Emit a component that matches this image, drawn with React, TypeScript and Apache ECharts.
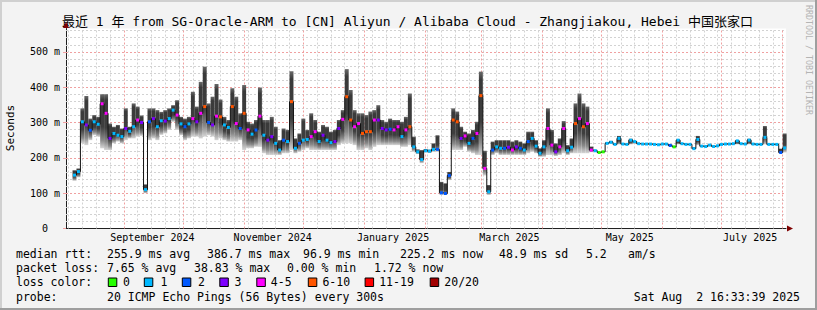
import React, { useEffect, useRef } from 'react';
import * as echarts from 'echarts';

const FONT = "'DejaVu Sans Mono', 'Noto Sans CJK SC', monospace";
const DAY = 86400000;
const END_TIME = Date.UTC(2025, 7, 2, 16, 33, 39);
const START_TIME = END_TIME - 365 * DAY;
const FIRST_SAMPLE = Date.UTC(2024, 7, 7);
const STEP_DAYS = 2;

// median RTT per 2-day bucket (ms)
const medianMs = [
  151, 161, 302, 293, 278, 302, 295, 353, 326, 255,
  269, 264, 260, 283, 275, 288, 307, 300, 110, 302,
  311, 288, 305, 304, 311, 335, 321, 296, 288, 296,
  311, 302, 326, 345, 300, 293, 318, 316, 293, 286,
  345, 297, 283, 326, 279, 267, 279, 318, 264, 250,
  260, 241, 222, 250, 246, 359, 227, 241, 250, 252,
  260, 274, 246, 264, 250, 243, 246, 283, 309, 373,
  307, 288, 297, 269, 274, 274, 307, 307, 283, 279,
  281, 279, 288, 260, 279, 288, 231, 217, 195, 220,
  219, 224, 224, 101, 99, 150, 307, 302, 255, 262,
  241, 255, 269, 376, 170, 104, 222, 231, 227, 227,
  230, 222, 231, 227, 222, 246, 255, 233, 213, 231,
  283, 236, 217, 231, 283, 220, 230, 297, 311, 288,
  297, 222, 220, 215, 217, 241, 244, 238, 255, 239,
  238, 250, 246, 240, 239, 239, 239, 238, 237, 239,
  239, 235, 231, 250, 240, 238, 238, 226, 252, 233,
  232, 236, 232, 234, 238, 239, 239, 240, 248, 240,
  239, 250, 239, 238, 238, 258, 238, 238, 238, 215,
  228,
];
// lowest ping of the bucket (ms)
const lowMs = [
  135, 145, 241, 236, 250, 264, 260, 227, 222, 222,
  241, 246, 241, 250, 255, 255, 260, 262, 100, 250,
  255, 250, 265, 269, 279, 302, 279, 264, 250, 255,
  260, 260, 255, 260, 264, 260, 250, 255, 250, 246,
  246, 246, 250, 222, 227, 227, 231, 231, 213, 208,
  208, 208, 208, 213, 213, 222, 213, 217, 222, 227,
  222, 222, 222, 222, 222, 222, 222, 236, 241, 241,
  241, 236, 222, 222, 227, 222, 231, 236, 236, 236,
  236, 236, 236, 231, 231, 236, 217, 211, 185, 215,
  214, 217, 217, 95, 95, 137, 222, 222, 222, 231,
  217, 213, 208, 208, 150, 95, 208, 213, 208, 208,
  208, 208, 208, 208, 208, 213, 217, 213, 203, 203,
  208, 208, 205, 208, 213, 208, 213, 213, 213, 213,
  213, 216, 217, 213, 215, 238, 241, 236, 238, 237,
  236, 238, 240, 238, 237, 237, 237, 236, 235, 237,
  237, 232, 229, 238, 238, 236, 236, 224, 236, 231,
  230, 234, 230, 232, 236, 237, 237, 238, 238, 238,
  237, 238, 237, 236, 236, 238, 236, 236, 236, 212,
  215,
];
// highest ping of the bucket (ms)
const highMs = [
  165, 170, 340, 375, 311, 321, 316, 380, 380, 297,
  288, 293, 283, 340, 288, 354, 345, 320, 125, 340,
  340, 335, 330, 335, 340, 349, 363, 316, 311, 316,
  387, 345, 415, 458, 354, 373, 409, 365, 316, 307,
  397, 373, 326, 406, 302, 297, 307, 399, 307, 307,
  316, 288, 250, 283, 279, 445, 255, 269, 311, 279,
  326, 307, 274, 293, 288, 274, 279, 307, 335, 451,
  392, 335, 326, 326, 321, 331, 335, 349, 307, 302,
  311, 307, 307, 302, 316, 382, 260, 224, 222, 225,
  223, 241, 264, 132, 128, 160, 340, 331, 288, 274,
  269, 279, 302, 444, 220, 123, 246, 250, 250, 250,
  250, 246, 250, 246, 241, 274, 274, 250, 227, 250,
  340, 279, 241, 255, 304, 236, 255, 354, 382, 354,
  345, 232, 223, 217, 219, 244, 248, 241, 262, 241,
  240, 254, 248, 242, 241, 241, 241, 240, 239, 241,
  241, 238, 233, 252, 242, 240, 240, 230, 262, 235,
  234, 238, 234, 236, 240, 241, 241, 242, 250, 242,
  241, 254, 241, 240, 240, 290, 240, 240, 240, 226,
  269,
];
// packet-loss class of each bucket (index into lossLabels)
const lossClass = [
  1, 1, 1, 3, 2, 1, 1, 4, 4, 3,
  1, 1, 1, 3, 1, 1, 4, 3, 1, 2,
  3, 1, 1, 3, 1, 1, 4, 1, 2, 1,
  4, 3, 4, 5, 2, 3, 4, 5, 1, 1,
  5, 4, 2, 5, 4, 1, 2, 4, 1, 3,
  3, 1, 1, 2, 1, 5, 1, 2, 1, 1,
  4, 4, 1, 3, 1, 1, 3, 3, 4, 5,
  5, 4, 4, 5, 5, 5, 4, 3, 3, 3,
  2, 4, 4, 1, 4, 5, 1, 1, 1, 1,
  1, 1, 2, 2, 2, 2, 5, 5, 3, 4,
  1, 2, 4, 5, 4, 1, 2, 1, 1, 2,
  3, 4, 3, 2, 1, 2, 1, 1, 1, 1,
  4, 4, 3, 4, 4, 1, 1, 5, 4, 5,
  4, 4, 1, 0, 0, 1, 1, 1, 1, 1,
  1, 1, 1, 1, 1, 1, 1, 1, 1, 1,
  1, 2, 0, 1, 1, 1, 1, 1, 1, 1,
  1, 1, 1, 1, 1, 1, 1, 1, 1, 1,
  1, 1, 1, 1, 1, 1, 1, 1, 1, 2,
  1,
];

const lossLabels = ['0', '1', '2', '3', '4-5', '6-10', '11-19', '20/20'];
const lossColors = ['#26ff00', '#00b8ff', '#0059ff', '#7e00ff', '#ff00ff', '#ff5500', '#ff0000', '#a10000'];

const xTickLabels = ['September 2024', 'November 2024', 'January 2025', 'March 2025', 'May 2025', 'July 2025'];
const xTickTimes = [
  Date.UTC(2024, 8, 15, 12), Date.UTC(2024, 10, 15, 12), Date.UTC(2025, 0, 15, 12),
  Date.UTC(2025, 2, 15, 12), Date.UTC(2025, 4, 15, 12), Date.UTC(2025, 6, 15, 12),
];
const yTickValues = [0, 100, 200, 300, 400, 500];

const title = '最近 1 年 from SG-Oracle-ARM to [CN] Aliyun / Alibaba Cloud - Zhangjiakou, Hebei 中国张家口';
const rttStats = ['255.9 ms avg', '386.7 ms max', '96.9 ms min', '225.2 ms now', '48.9 ms sd', '5.2', 'am/s'];
const lossStats = ['7.65 % avg', '38.83 % max', '0.00 % min', '1.72 % now'];
const probeText = '20 ICMP Echo Pings (56 Bytes) every 300s';
const dateText = 'Sat Aug  2 16:33:39 2025';

// layout (pixels)
const rttX = [107, 207, 303, 400, 499, 586, 628];
const lossX = [107, 194, 287, 374];
const boxX = [108.3, 144.3, 182.3, 219.8, 256.8, 308.3, 365.1, 430.2];
const boxLabelX = [123, 160.4, 198, 234.4, 270.8, 322.4, 379.2, 444.3];

const Y_MAX = 566;
const MINOR = '#d2d2d2';
const MAJOR = '#f0a0a0';

function buildOption() {
  const stepMs = STEP_DAYS * DAY;
  const times = medianMs.map((_, i) => FIRST_SAMPLE + i * stepMs);
  const smokeData = times.map((t, i) => [t, lowMs[i], highMs[i]]);
  const lineData = times.map((t, i) => [t, medianMs[i]]);
  const markerData = times.map((t, i) => [t, medianMs[i], lossClass[i]]);

  const gridMarks: any[] = [];
  const minorStyle = { color: MINOR, type: [2, 2], width: 1 };
  const majorStyle = { color: MAJOR, type: [2, 2], width: 1 };
  for (let v = 20; v < Y_MAX; v += 20) {
    gridMarks.push({ yAxis: v, lineStyle: v % 100 === 0 ? majorStyle : minorStyle });
  }
  const monthStarts: number[] = [];
  for (let m = 8; m <= 19; m++) monthStarts.push(Date.UTC(2024, m, 1));
  for (let t = Date.UTC(2024, 7, 4); t < END_TIME; t += 7 * DAY) {
    if (t > START_TIME && !monthStarts.some((ms) => Math.abs(ms - t) < DAY / 2)) {
      gridMarks.push({ xAxis: t, lineStyle: minorStyle });
    }
  }
  monthStarts.forEach((t) => gridMarks.push({ xAxis: t, lineStyle: majorStyle }));

  const txt = (text: string, x: number, y: number, size: number, extra: any = {}) => ({
    type: 'text',
    x,
    y,
    silent: true,
    style: {
      text,
      fontFamily: FONT,
      fontSize: size,
      fill: '#000',
      textAlign: 'left',
      align: 'left',
      textVerticalAlign: 'middle',
      verticalAlign: 'middle',
      ...extra,
    },
  });

  const graphics: any[] = [
    { type: 'rect', shape: { x: 0, y: 0, width: 817, height: 2 }, style: { fill: '#d0d0d0' }, silent: true },
    { type: 'rect', shape: { x: 0, y: 0, width: 2, height: 310 }, style: { fill: '#d0d0d0' }, silent: true },
    { type: 'rect', shape: { x: 0, y: 308, width: 817, height: 2 }, style: { fill: '#9e9e9e' }, silent: true },
    { type: 'rect', shape: { x: 815, y: 0, width: 2, height: 310 }, style: { fill: '#9e9e9e' }, silent: true },
    txt(title, 407.5, 21.5, 13, { textAlign: 'center', align: 'center' }),
    { ...txt('Seconds', 10, 128, 11, { textAlign: 'center', align: 'center' }), rotation: Math.PI / 2 },
    { ...txt('RRDTOOL / TOBI OETIKER', 808.5, 60, 8.3, { textAlign: 'center', align: 'center', fill: '#b4b4b4' }), rotation: -Math.PI / 2 },
    { type: 'polygon', shape: { points: [[787, 225.5], [793, 228.5], [787, 231.5]] }, style: { fill: '#7f0000' }, silent: true },
    { type: 'polygon', shape: { points: [[63, 28], [66, 22], [69, 28]] }, style: { fill: '#7f0000' }, silent: true },
    txt('median rtt:', 16, 254.3, 11.5),
    txt('packet loss:', 16, 268.3, 11.5),
    txt('loss color:', 16, 282.3, 11.5),
    txt('probe:', 16, 296.7, 11.5),
    txt(probeText, 107, 296.7, 11.5),
    txt(dateText, 800, 296.7, 11.5, { textAlign: 'right', align: 'right' }),
  ];
  rttStats.forEach((s, i) => graphics.push(txt(s, rttX[i], 254.3, 11.5)));
  lossStats.forEach((s, i) => graphics.push(txt(s, lossX[i], 268.3, 11.5)));
  lossLabels.forEach((s, i) => {
    graphics.push({
      type: 'rect',
      shape: { x: boxX[i], y: 278, width: 8.5, height: 8.5 },
      style: { fill: lossColors[i], stroke: '#000', lineWidth: 1 },
      silent: true,
    });
    graphics.push(txt(s, boxLabelX[i], 282.3, 11.5));
  });

  return {
    animation: false,
    backgroundColor: '#f3f3f3',
    grid: { left: 66, top: 28.5, width: 720, height: 200, show: true, backgroundColor: '#ffffff', borderWidth: 0 },
    xAxis: {
      type: 'value',
      min: START_TIME,
      max: END_TIME,
      splitLine: { show: false },
      axisTick: { show: false },
      axisLine: { show: true, lineStyle: { color: '#202020', width: 1 } },
      axisLabel: {
        customValues: xTickTimes,
        formatter: (v: number) => {
          const k = xTickTimes.indexOf(v);
          return k >= 0 ? xTickLabels[k] : '';
        },
        fontFamily: FONT,
        fontSize: 10,
        color: '#000',
        margin: 4,
        hideOverlap: false,
      },
    },
    yAxis: {
      type: 'value',
      min: 0,
      max: Y_MAX,
      interval: 100,
      splitLine: { show: false },
      axisLine: { show: true, lineStyle: { color: '#202020', width: 1 } },
      axisTick: { show: true, length: 3, lineStyle: { color: MAJOR } },
      axisLabel: {
        showMaxLabel: false,
        formatter: (v: number) => (v === 0 ? '0\u00a0\u00a0' : yTickValues.includes(v) ? v + ' m' : ''),
        fontFamily: FONT,
        fontSize: 10,
        color: '#000',
        margin: 6,
      },
    },
    graphic: graphics,
    series: [
      {
        type: 'line',
        data: [],
        z: 1,
        silent: true,
        markLine: {
          z: 1,
          silent: true,
          symbol: ['none', 'none'],
          label: { show: false },
          animation: false,
          data: gridMarks,
        },
      },
      {
        type: 'custom',
        z: 2,
        silent: true,
        data: smokeData,
        renderItem: (params: any, api: any) => {
          const t = api.value(0);
          const top = api.coord([t, api.value(2)]);
          const bot = api.coord([t, api.value(1)]);
          const w = api.size([stepMs, 0])[0];
          return {
            type: 'rect',
            shape: { x: top[0] - w / 2, y: top[1], width: w, height: Math.max(1, bot[1] - top[1]) },
            style: {
              fill: new echarts.graphic.LinearGradient(0, 0, 0, 1, [
                { offset: 0, color: '#6a6a6a' },
                { offset: 0.1, color: '#3a3a3a' },
                { offset: 0.6, color: '#3e3e3e' },
                { offset: 0.85, color: '#8a8a8a' },
                { offset: 1, color: '#d6d6d6' },
              ]),
            },
          };
        },
      },
      {
        type: 'line',
        z: 3,
        silent: true,
        step: 'middle',
        showSymbol: false,
        symbol: 'none',
        data: lineData,
        lineStyle: { color: '#111', width: 1 },
      },
      {
        type: 'custom',
        z: 4,
        silent: true,
        data: markerData,
        renderItem: (params: any, api: any) => {
          const t = api.value(0);
          const p = api.coord([t, api.value(1)]);
          const w = api.size([stepMs, 0])[0];
          return {
            type: 'rect',
            shape: { x: p[0] - w / 2 + 0.5, y: p[1] - 1.5, width: w - 1, height: 3 },
            style: { fill: lossColors[api.value(2)] },
          };
        },
      },
    ],
  };
}

export default function App() {
  const ref = useRef<HTMLDivElement>(null);
  useEffect(() => {
    const chart = echarts.init(ref.current as HTMLDivElement, null, { renderer: 'svg' });
    chart.setOption(buildOption() as any);
    return () => chart.dispose();
  }, []);
  return <div ref={ref} style={{ position: 'fixed', left: 0, top: 0, width: 817, height: 310 }} />;
}
